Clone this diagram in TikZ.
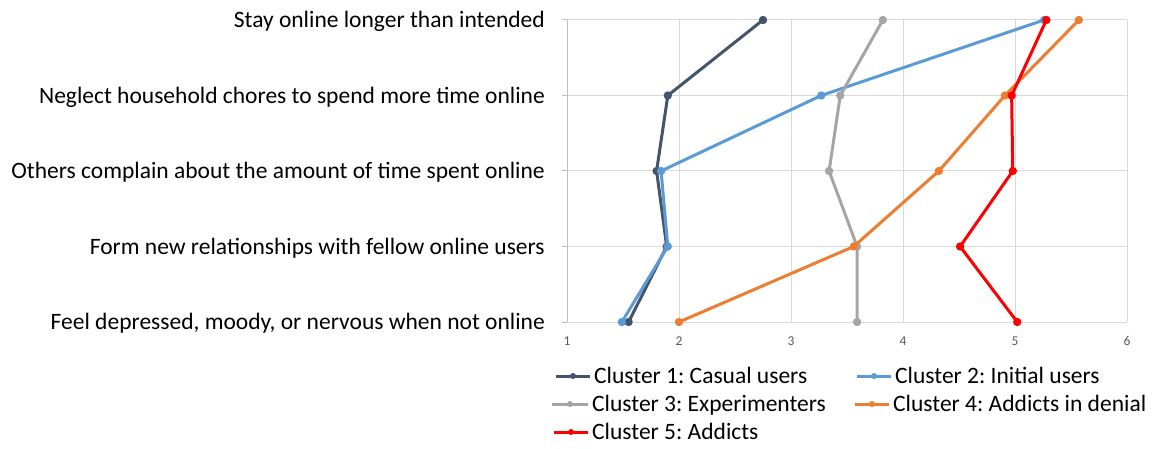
\documentclass[tikz,border=0pt]{standalone}
\usepackage{fontspec}
\setmainfont{Carlito}
\usetikzlibrary{calc}
\frenchspacing
\definecolor{cdark}{HTML}{44546A}
\definecolor{cblue}{HTML}{5B9BD5}
\definecolor{cgray}{HTML}{A5A5A5}
\definecolor{corange}{HTML}{ED7D31}
\definecolor{cred}{HTML}{FF0000}
\definecolor{grid}{HTML}{D9D9D9}
\definecolor{axis}{HTML}{BFBFBF}
\definecolor{ticktext}{HTML}{595959}
\begin{document}
\frenchspacing
\begin{tikzpicture}[x=1pt,y=-1pt,
  catlabel/.style={anchor=base east,inner sep=0pt,font=\fontsize{23.5}{26}\selectfont},
  ticklabel/.style={anchor=base,inner sep=0pt,text=ticktext,font=\fontsize{13.5}{15}\selectfont},
  legtext/.style={anchor=base west,inner sep=0pt,font=\fontsize{23.5}{26}\selectfont},
  gridline/.style={draw=grid,line width=1pt},
  series/.style={line width=3pt,line join=round,line cap=round},
  legline/.style={line width=3pt},
]
\useasboundingbox (0,0) rectangle (1157,449);
% category labels
\node[catlabel] (l1) at (545,27.6) {Stay online longer than intended};
\node[catlabel] (l2) at (545,103.1) {Neglect household chores to spend more time online};
\node[catlabel] (l3) at (545,178.6) {Others complain about the amount of time spent online};
\node[catlabel] (l4) at (545,254.1) {Form new relationships with fellow online users};
\node[catlabel] (l5) at (545,329.6) {Feel depressed, moody, or nervous when not online};
\begin{scope}[x=112pt,xshift=455pt]
  % grid
  \foreach \v in {2,...,6} \draw[gridline] (\v,20) -- (\v,322);
  \foreach \r in {20,95.5,171,246.5,322} {
    \draw[gridline] (1,\r) -- (6,\r);
    \draw[draw=axis,line width=1pt] (0.955,\r) -- (1,\r);
  }
  \draw[draw=axis,line width=1pt] (1,20) -- (1,322);
  \foreach \v in {1,...,6} \node[ticklabel] (t\v) at (\v,345.5) {\v};
  % data
  \foreach \name/\col/\a/\b/\c/\d/\e in {
      s1/cdark/2.75/1.90/1.80/1.89/1.55,
      s2/cblue/5.26/3.27/1.84/1.90/1.49,
      s3/cgray/3.82/3.44/3.34/3.59/3.59,
      s4/corange/5.57/4.91/4.32/3.56/2.00,
      s5/cred/5.28/4.97/4.98/4.51/5.02} {
    \coordinate (\name p1) at (\a,20);
    \coordinate (\name p2) at (\b,95.5);
    \coordinate (\name p3) at (\c,171);
    \coordinate (\name p4) at (\d,246.5);
    \coordinate (\name p5) at (\e,322);
    \draw[series,draw=\col] (\name p1) -- (\name p2) -- (\name p3) -- (\name p4) -- (\name p5);
    \foreach \k in {1,...,5} \fill[\col] (\name p\k) circle[radius=4.2pt];
  }
\end{scope}
% legend
\foreach \name/\col/\xa/\xb/\yy/\txt in {
    g1/cdark/556/590/376/{Cluster 1: Casual users},
    g2/cblue/857/891/376/{Cluster 2: Initial users},
    g3/cgray/552/588/404/{Cluster 3: Experimenters},
    g4/corange/855/889/404/{Cluster 4: Addicts in denial},
    g5/cred/554/588/432/{Cluster 5: Addicts}} {
  \coordinate (\name a) at (\xa,\yy);
  \coordinate (\name b) at (\xb,\yy);
  \draw[legline,draw=\col] (\name a) -- (\name b);
  \fill[\col] ($(\name a)!0.5!(\name b)$) circle[radius=3pt];
  \node[legtext] (\name t) at (\xb+4,\yy+7.6) {\txt};
}
\end{tikzpicture}
\end{document}
